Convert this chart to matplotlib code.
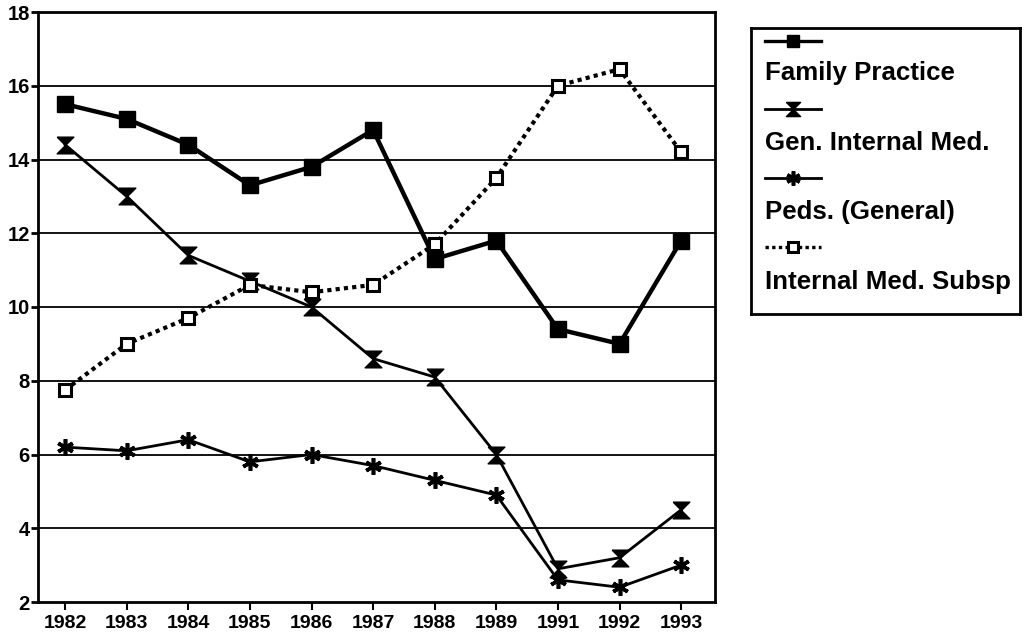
import matplotlib
matplotlib.use("Agg")
import matplotlib.pyplot as plt
from matplotlib.lines import Line2D

years = ["1982", "1983", "1984", "1985", "1986", "1987", "1988", "1989", "1991", "1992", "1993"]
family_practice = [15.5, 15.1, 14.4, 13.3, 13.8, 14.8, 11.3, 11.8, 9.4, 9.0, 11.8]
gen_internal_med = [14.4, 13.0, 11.4, 10.7, 10.0, 8.6, 8.1, 6.0, 2.9, 3.2, 4.5]
peds_general = [6.2, 6.1, 6.4, 5.8, 6.0, 5.7, 5.3, 4.9, 2.6, 2.4, 3.0]
internal_med_subsp = [7.75, 9.0, 9.7, 10.6, 10.4, 10.6, 11.7, 13.5, 16.0, 16.45, 14.2]
labels = ["Family Practice", "Gen. Internal Med.", "Peds. (General)", "Internal Med. Subsp"]
yticks = [2, 4, 6, 8, 10, 12, 14, 16, 18]

plt.rcParams['font.family'] = ['Liberation Sans', 'DejaVu Sans']

hourglass = [(-1, 1), (1, 1), (-1, -1), (1, -1), (-1, 1)]

styles = [
    dict(color='black', lw=3.2, ls='-', marker='s', ms=11, mfc='black', mec='black'),
    dict(color='black', lw=2.0, ls='-', marker=hourglass, ms=12, mfc='black', mec='black'),
    dict(color='black', lw=2.0, ls='-', marker=(6, 2, 0), ms=12, mew=2.6, mec='black'),
    dict(color='black', lw=3.0, ls=(0, (1, 1)), marker='s', ms=9, mfc='white', mec='black', mew=2.2),
]
series = [family_practice, gen_internal_med, peds_general, internal_med_subsp]

fig = plt.figure(figsize=(10.32, 6.4), dpi=100)
ax = fig.add_axes([38/1032, 38/640, 677/1032, 590/640])
x = list(range(len(years)))
for ys, st in zip(series, styles):
    ax.plot(x, ys, **st, zorder=3)

for v in yticks[1:-1]:
    ax.axhline(v, color='black', lw=1.3, zorder=1)

ax.set_xlim(-0.44, 10.55)
ax.set_ylim(2, 18)
ax.set_yticks(yticks)
ax.set_yticklabels([str(v) for v in yticks], fontsize=14.5, fontweight='bold')
ax.set_xticks(x)
ax.set_xticklabels(years, fontsize=14, fontweight='bold')
ax.tick_params(axis='y', direction='out', length=5, width=2, pad=1)
ax.tick_params(axis='x', direction='out', length=6, width=1.5, pad=3)
for sp in ax.spines.values():
    sp.set_linewidth(2)

# legend panel
lax = fig.add_axes([751/1032, (640-314)/640, 269/1032, 286/640])
lax.set_xlim(0, 269)
lax.set_ylim(286, 0)
lax.set_xticks([])
lax.set_yticks([])
for sp in lax.spines.values():
    sp.set_linewidth(2)
handle_y = [13, 81, 150, 219]
text_y = [45, 115, 184, 254]
for st, hy, ty, lab in zip(styles, handle_y, text_y, labels):
    st2 = dict(st)
    st2['ms'] = st['ms'] * 0.85
    st2['lw'] = min(st['lw'], 2.4)
    lax.add_line(Line2D([14, 42, 70], [hy, hy, hy], markevery=[1], **st2))
    lax.text(14, ty, lab, fontsize=18.6, fontweight='bold', va='center', ha='left')

fig.savefig("out.png", dpi=100)
